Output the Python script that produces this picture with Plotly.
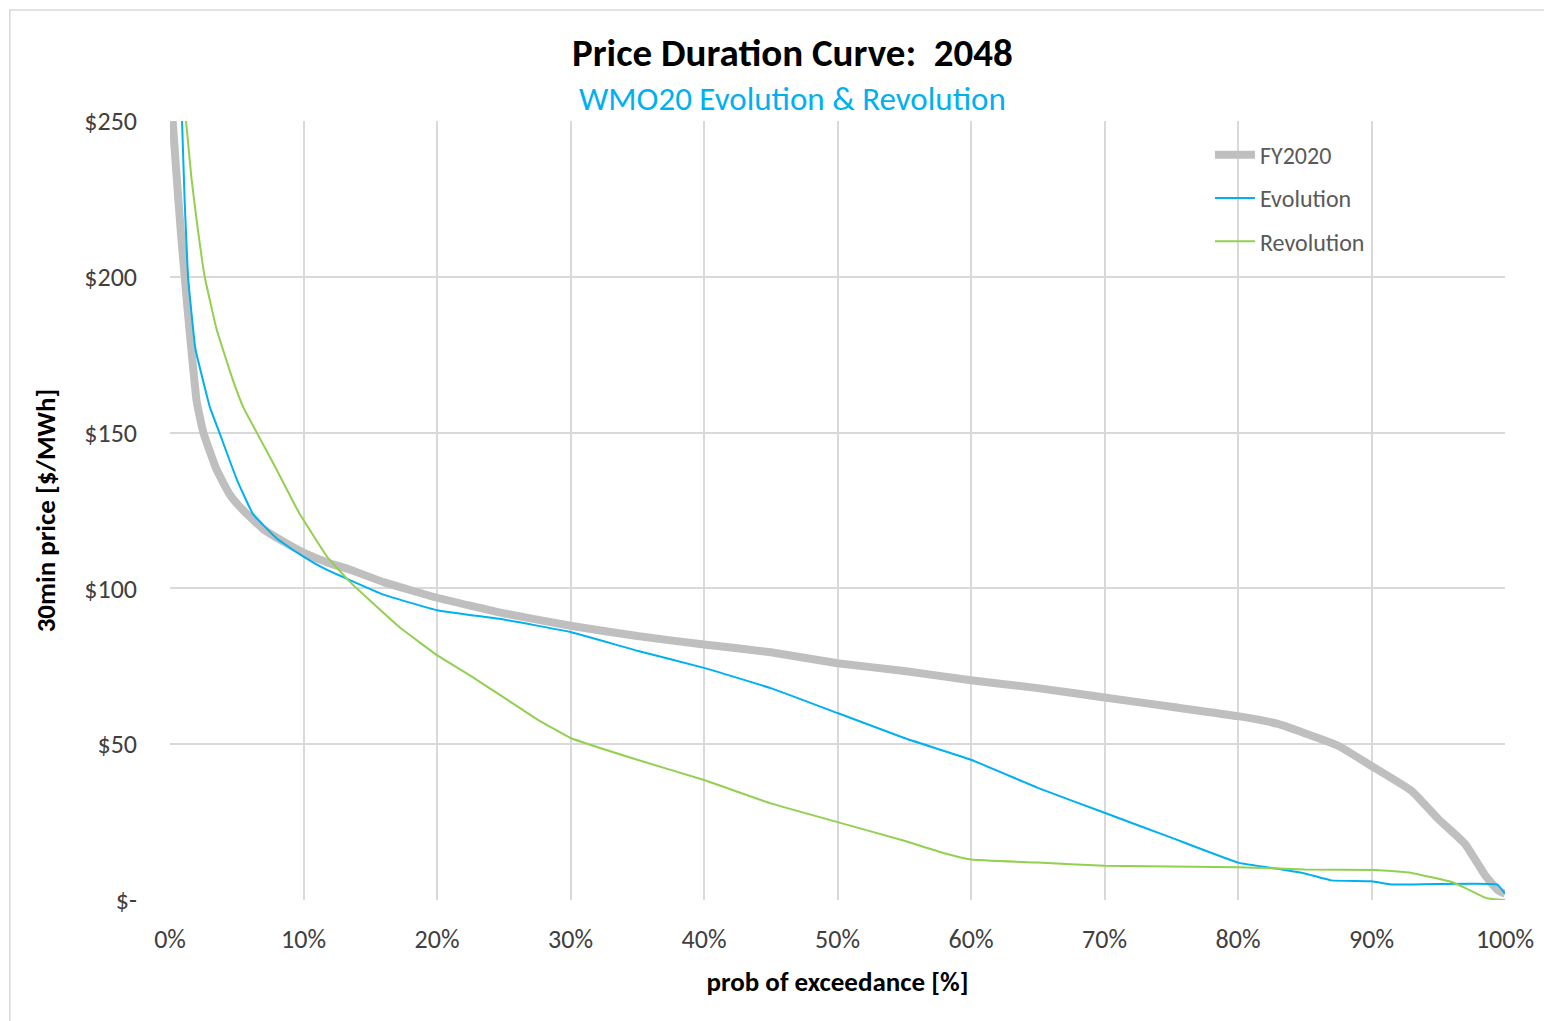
import plotly.graph_objects as go

FONT = "Carlito, 'Liberation Sans Narrow', 'Open Sans', sans-serif"

# probability of exceedance [%] and 30 min price [$/MWh]
fy2020_x = [0.2, 0.5, 0.8, 1.0, 1.35, 2, 2.5, 3.5, 4.5, 5.5, 7, 8.5, 10, 12, 13.5, 16, 20, 25, 30,
            35, 40, 45, 50, 55, 60, 65, 70, 75, 80, 83, 85, 87.5, 90, 93, 95, 97, 98.5, 99.5, 100]
fy2020_y = [250, 232, 215, 205, 188, 160, 150, 138, 130, 125, 119, 115, 111.5, 108, 106, 102, 97, 92, 88,
            84.7, 82, 79.5, 76, 73.5, 70.5, 68, 65, 62, 59, 56.5, 53.5, 49.5, 43, 35, 26, 18, 8, 3, 2]

evo_x = [0.9, 1.1, 1.35, 1.9, 3, 3.7, 5, 6.2, 8, 9.7, 11.5, 13.3, 16, 20, 25, 30, 35, 40, 45, 50,
         55, 60, 65, 70, 75, 80, 83, 85, 87, 90, 91.5, 99.4, 100]
evo_y = [250, 224, 200, 177, 158, 150, 135, 124, 116, 111, 106.5, 103, 98, 93, 90, 86, 80, 74.5, 68, 60,
         52, 45, 36, 28, 20, 12, 10, 8.5, 6.3, 6, 5, 5, 2]

rev_x = [1.2, 1.6, 2.0, 2.6, 3.5, 4.7, 5.5, 6.5, 8, 9.7, 11.8, 13.5, 15, 17.2, 20, 22.5, 25, 27.5, 30,
         35, 40, 45, 50, 55, 58, 60, 65, 70, 80, 85, 90.4, 93, 96, 97, 98.6, 100]
rev_y = [250, 232, 218, 200, 183, 167, 158, 150, 138, 124, 110, 102, 96, 87.5, 78.6, 72, 65, 58, 52,
         45, 38.5, 31, 25, 19, 15, 13, 12, 11, 10.5, 9.8, 9.6, 8.7, 5.8, 3.9, 0.6, 0]

x_ticks = [0, 10, 20, 30, 40, 50, 60, 70, 80, 90, 100]
x_labels = [f"{t}%" for t in x_ticks]
y_ticks = [0, 50, 100, 150, 200, 250]
y_labels = ["$-", "$50", "$100", "$150", "$200", "$250"]

fig = go.Figure()
fig.add_trace(go.Scatter(x=fy2020_x, y=fy2020_y, mode="lines", name="FY2020", legendgroup="a",
                         line=dict(color="#bfbfbf", width=8, shape="spline", smoothing=0.4)))
fig.add_trace(go.Scatter(x=evo_x, y=evo_y, mode="lines", name="Evolution", legendgroup="b",
                         line=dict(color="#00b0f0", width=2, shape="spline", smoothing=0.3)))
fig.add_trace(go.Scatter(x=rev_x, y=rev_y, mode="lines", name="Revolution", legendgroup="c",
                         line=dict(color="#92d050", width=2, shape="spline", smoothing=0.3)))

# outer chart border
fig.add_shape(type="rect", xref="paper", yref="paper",
              x0=-0.12, x1=1.04, y0=-0.16, y1=1.1425,
              line=dict(color="#d9d9d9", width=1.5), layer="below")

fig.add_annotation(text="<b>Price Duration Curve:  2048</b>", xref="paper", yref="paper",
                   x=0.466, y=1.0873, yanchor="middle", showarrow=False,
                   font=dict(family=FONT, size=39, color="#000000"))
fig.add_annotation(text="WMO20 Evolution &amp; Revolution", xref="paper", yref="paper",
                   x=0.466, y=1.028, yanchor="middle", showarrow=False,
                   font=dict(family=FONT, size=33, color="#00b0f0"))

fig.update_layout(
    width=1552, height=1021,
    margin=dict(l=162, r=55, t=113, b=129),
    plot_bgcolor="white", paper_bgcolor="white",
    font=dict(family=FONT, size=26, color="#404040"),
    showlegend=True,
    legend=dict(x=0.779, y=0.985, xanchor="left", yanchor="top",
                font=dict(family=FONT, size=24, color="#595959"),
                bgcolor="rgba(0,0,0,0)", tracegroupgap=9, itemwidth=40),
    xaxis=dict(range=[0, 100], tickvals=x_ticks, ticktext=x_labels, showgrid=True,
               gridcolor="#d9d9d9", gridwidth=2, zeroline=False, showline=False, ticks="",
               ticklabelstandoff=21, tickfont=dict(family=FONT, size=26, color="#404040"),
               title=dict(text="<b>prob of exceedance [%]</b>", standoff=18,
                          font=dict(family=FONT, size=27, color="#000000"))),
    yaxis=dict(range=[0, 250], tickvals=y_ticks, ticktext=y_labels, showgrid=True,
               gridcolor="#d9d9d9", gridwidth=2, zeroline=False, showline=False, ticks="",
               ticklabelstandoff=32, tickfont=dict(family=FONT, size=26, color="#404040"),
               title=dict(text="<b>30min price [$/MWh]</b>", standoff=20,
                          font=dict(family=FONT, size=27, color="#000000"))),
)

fig.write_html("out.html")
